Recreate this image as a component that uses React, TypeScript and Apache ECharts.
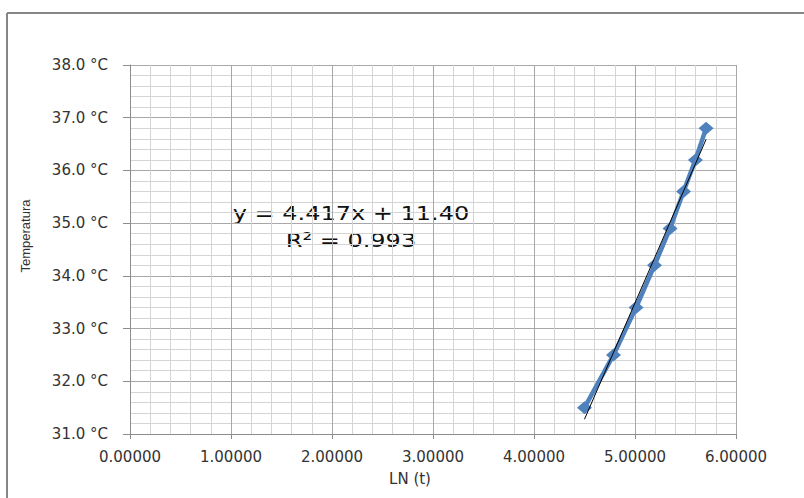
import React, { useEffect, useRef } from "react";
import * as echarts from "echarts";

// LN(t) values and measured temperatures
const lnT = [4.49981, 4.78749, 5.01064, 5.19296, 5.34711, 5.48064, 5.59842, 5.70378];
const temps = [31.5, 32.5, 33.4, 34.2, 34.9, 35.6, 36.2, 36.8];
// linear trend line end points (y = 4.417x + 11.40)
const trendX = [4.49981, 5.70378];
const trendY = [31.28, 36.59];
const equationLines = ["y = 4.417x + 11.40", "R² = 0.993"];
const xTitle = "LN (t)";
const yTitle = "Temperatura";

export default function App() {
  const ref = useRef<HTMLDivElement>(null);
  useEffect(() => {
    if (!ref.current) return;
    const chart = echarts.init(ref.current, null, { renderer: "svg" });
    const font = "DejaVu Sans";
    chart.setOption({
      animation: false,
      backgroundColor: "#ffffff",
      grid: { left: 130, right: 68, top: 65, bottom: 64 },
      xAxis: {
        type: "value",
        min: 0,
        max: 6,
        interval: 1,
        axisLine: { show: true, onZero: false, lineStyle: { color: "#8c8c8c", width: 1 } },
        axisTick: { show: true, length: 5, lineStyle: { color: "#8c8c8c" } },
        minorTick: { show: false, splitNumber: 5 },
        axisLabel: {
          margin: 15,
          fontFamily: font,
          fontSize: 15,
          color: "#333333",
          formatter: (v: number) => v.toFixed(5),
        },
        splitLine: { show: true, lineStyle: { color: "#a8a8a8", width: 1 } },
        minorSplitLine: { show: true, lineStyle: { color: "#d4d4d4", width: 1 } },
      },
      yAxis: {
        type: "value",
        min: 31,
        max: 38,
        interval: 1,
        axisLine: { show: true, onZero: false, lineStyle: { color: "#8c8c8c", width: 1 } },
        axisTick: { show: true, length: 7, lineStyle: { color: "#8c8c8c" } },
        minorTick: { show: false, splitNumber: 5 },
        axisLabel: {
          margin: 22,
          fontFamily: font,
          fontSize: 15,
          color: "#333333",
          formatter: (v: number) => v.toFixed(1) + " °C",
        },
        splitLine: { show: true, lineStyle: { color: "#a8a8a8", width: 1 } },
        minorSplitLine: { show: true, lineStyle: { color: "#d4d4d4", width: 1 } },
      },
      series: [
        {
          type: "line",
          data: lnT.map((x, i) => [x, temps[i]]),
          symbol: "diamond",
          symbolSize: [15, 13],
          lineStyle: { color: "#4F81BD", width: 4.5 },
          itemStyle: { color: "#4F81BD" },
          z: 2,
        },
        {
          type: "line",
          data: trendX.map((x, i) => [x, trendY[i]]),
          symbol: "none",
          lineStyle: { color: "#000000", width: 1 },
          z: 3,
        },
      ],
      graphic: [
        { type: "line", shape: { x1: 7, y1: 13, x2: 804, y2: 13 }, style: { stroke: "#868686", lineWidth: 2 } },
        { type: "line", shape: { x1: 7, y1: 13, x2: 7, y2: 498 }, style: { stroke: "#868686", lineWidth: 2 } },
        {
          type: "text",
          x: 351,
          y: 213,
          scaleX: 1.2,
          style: { text: equationLines[0], fontFamily: font, fontSize: 20, fill: "#111111", align: "center", verticalAlign: "middle" },
        },
        {
          type: "text",
          x: 351,
          y: 240,
          scaleX: 1.2,
          style: { text: equationLines[1], fontFamily: font, fontSize: 20, fill: "#111111", align: "center", verticalAlign: "middle" },
        },
        {
          type: "text",
          x: 410,
          y: 479,
          style: { text: xTitle, fontFamily: font, fontSize: 15, fill: "#333333", align: "center", verticalAlign: "middle" },
        },
        {
          type: "text",
          x: 25,
          y: 236,
          rotation: Math.PI / 2,
          style: { text: yTitle, fontFamily: "Liberation Sans", fontSize: 13, fill: "#333333", align: "center", verticalAlign: "middle" },
        },
      ],
    });
    return () => chart.dispose();
  }, []);
  return <div ref={ref} style={{ position: "fixed", left: 0, top: 0, width: 804, height: 498 }} />;
}
